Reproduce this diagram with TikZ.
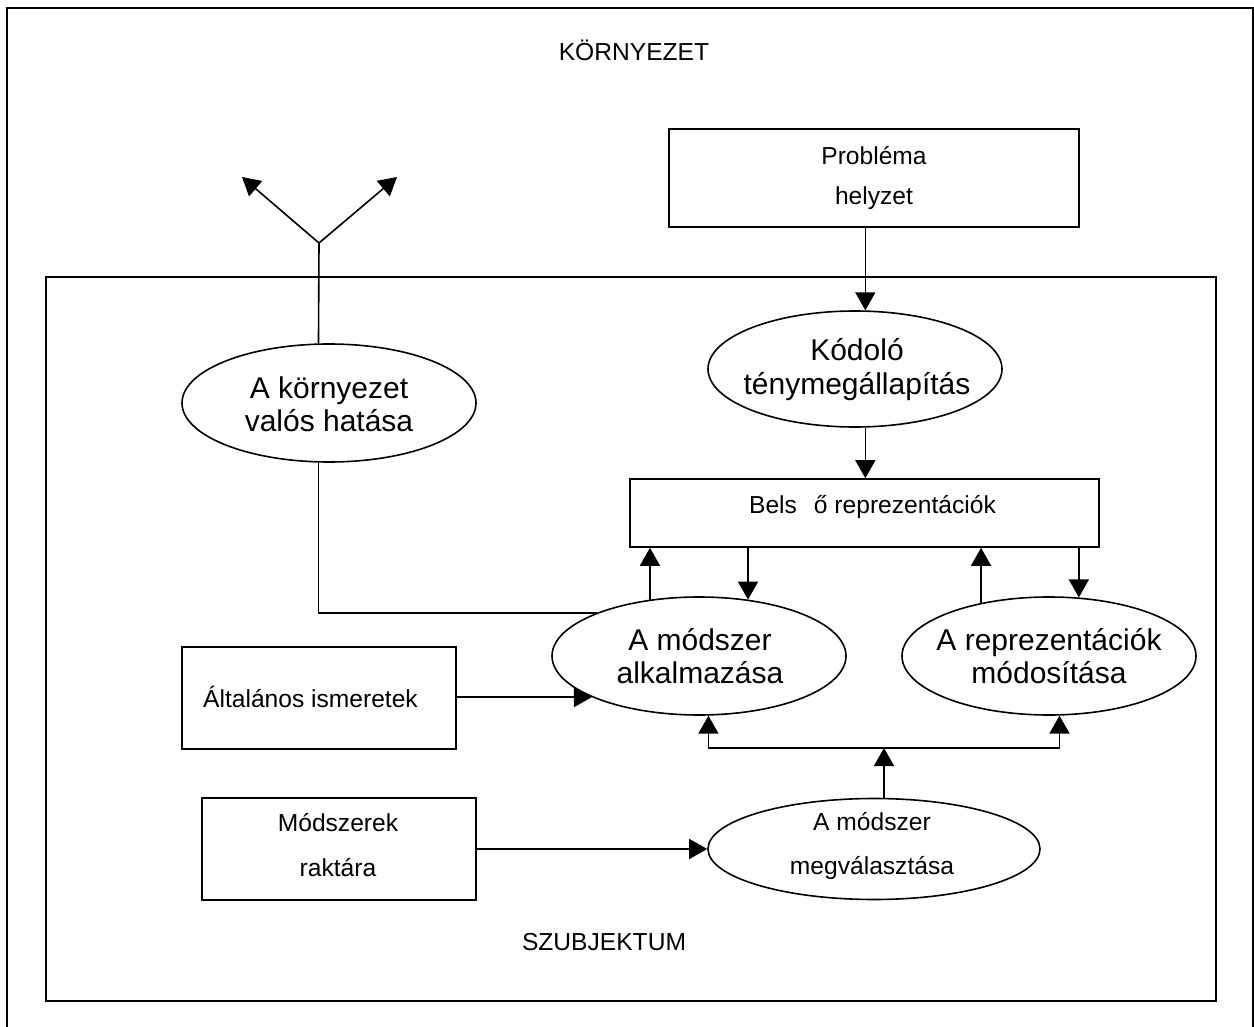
\documentclass[tikz,border=0pt]{standalone}
\usepackage{fontspec}
\setmainfont{Liberation Sans}
\usetikzlibrary{shapes.geometric,arrows.meta}
\begin{document}
\begin{tikzpicture}[x=1pt,y=-1pt,
  line width=1.6pt,
  arr/.style={-{Triangle[length=18pt,width=20pt]}},
  box/.style={draw,rectangle,inner sep=0pt},
  ell/.style={draw,ellipse,inner sep=0pt,minimum width=294pt,minimum height=118pt},
  small/.style={font=\fontsize{24.6}{29}\selectfont,align=center,inner sep=0pt},
  big/.style={font=\fontsize{30}{33}\selectfont,align=center,inner sep=0pt}]
\useasboundingbox (0,0) rectangle (1254,1027);

% frames
\draw (7,1030) -- (7,8) -- (1253,8) -- (1253,1030);
\draw (46,277) rectangle (1216,1001);

\node[small] (env) at (634,50) {KÖRNYEZET};
\node[small] (subj) at (604,942) {SZUBJEKTUM};

% boxes
\node[box,minimum width=410pt,minimum height=98pt,
      font=\fontsize{24.6}{40}\selectfont,align=center] (prob) at (874,178) {Probléma\\helyzet};
\node[box,minimum width=469pt,minimum height=68pt] (bel) at (864.5,513) {};
\node[small] (belt) at (872.5,507) {Bels\hspace{17pt}ő reprezentációk};
\node[box,minimum width=274pt,minimum height=102pt] (alt) at (319,698) {};
\node[small] (altt) at (310.5,697) {Általános ismeretek};
\node[box,minimum width=274pt,minimum height=102pt] (mod) at (339,849) {};
\node[small,font=\fontsize{24.6}{45}\selectfont] (modt) at (338,845.5) {Módszerek\\raktára};

% ellipses
\node[ell] (kh) at (329,403) {};
\node[big] (kht) at (329,404) {A környezet\\valós hatása};
\node[ell,minimum height=116pt] (kod) at (855,369) {};
\node[big,font=\fontsize{30}{34}\selectfont] (kodt) at (857,370) {Kódoló\\ténymegállapítás};
\node[ell] (alk) at (699,656) {};
\node[big] (alkt) at (700,656) {A módszer\\alkalmazása};
\node[ell] (rep) at (1049,656) {};
\node[big] (rept) at (1049,656) {A reprezentációk\\módosítása};
\node[ell,minimum width=332pt,minimum height=101pt] (megv) at (874,849) {};
\node[small,font=\fontsize{24.6}{44}\selectfont] (megvt) at (872,846) {A módszer\\megválasztása};

% Y-shaped output
\coordinate (yj) at (319,243);
\coordinate (yl) at (242,177);
\coordinate (yr) at (397,177);
\draw (kh.100) -- (yj);
\draw[arr] (yj) -- (yl);
\draw[arr] (yj) -- (yr);

% L-connector
\draw (kh.260) |- (alk.157);

% problem -> coding -> internal representations
\draw[arr] (prob.south -| kod.80) -- (kod.80);
\draw[arr] (kod.280) -- (kod.280 |- bel.north);

% between representations and the two ellipses
\draw[arr] (alk.131) -- (alk.131 |- bel.south);
\draw[arr] (alk.49 |- bel.south) -- (alk.49);
\draw[arr] (rep.142) -- (rep.142 |- bel.south);
\draw[arr] (rep.63 |- bel.south) -- (rep.63);

% general knowledge
\draw[arr] (alt.east |- alk.201) -- (alk.201);

% method store
\draw[arr] (mod.east) -- (megv.west);

% method selection bus
\coordinate (bus) at (884,748);
\draw[arr] (megv.north -| bus) -- (bus);
\draw[arr] (bus) -| (alk.279);
\draw[arr] (bus) -| (rep.280);
\end{tikzpicture}
\end{document}
